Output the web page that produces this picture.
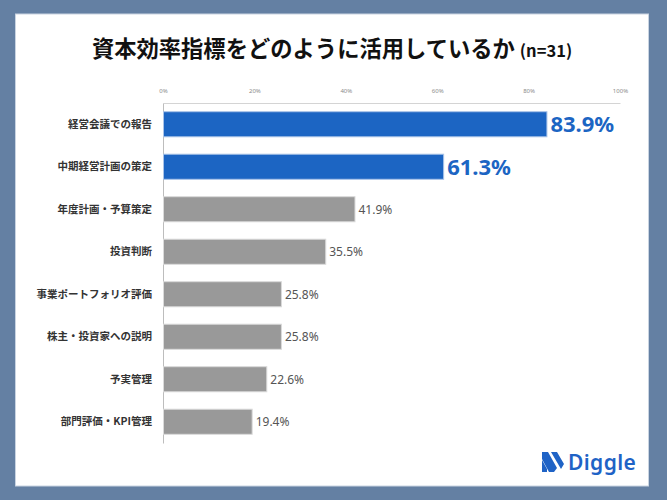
<!DOCTYPE html>
<html>
<head>
<meta charset="utf-8">
<script src="https://cdn.jsdelivr.net/npm/d3@7"></script>
<style>
  body { margin: 0; background: #6480a3; }
</style>
</head>
<body>
<svg width="667" height="500"></svg>
<script>
const { select, scaleLinear, scaleBand, axisTop, axisLeft } = d3;

// data
const categories = [
    '経営会議での報告',
    '中期経営計画の策定',
    '年度計画・予算策定',
    '投資判断',
    '事業ポートフォリオ評価',
    '株主・投資家への説明',
    '予実管理',
    '部門評価・KPI管理',
];
const values = [83.9, 61.3, 41.9, 35.5, 25.8, 25.8, 22.6, 19.4];
const highlighted = ['経営会議での報告', '中期経営計画の策定'];
const tickValues = [0, 20, 40, 60, 80, 100];

const data = categories.map((c, i) => ({ category: c, value: values[i] }));

const svg = select('svg');
const jp = "'Noto Sans CJK JP', 'Noto Sans', sans-serif";
const blue = '#1c65c3';

// card
svg.append('rect')
    .attr('width', 667).attr('height', 500)
    .attr('fill', '#6480a3');
svg.append('rect')
    .attr('x', 15.5).attr('y', 14)
    .attr('width', 633).attr('height', 472)
    .attr('fill', '#fff')
    .attr('stroke', '#c9d4e2');

// title
const title = svg.append('text')
    .attr('x', 332)
    .attr('y', 57)
    .attr('text-anchor', 'middle')
    .attr('font-family', jp)
    .attr('font-weight', 700)
    .attr('fill', '#111');
title.append('tspan').attr('font-size', 22.3).text('資本効率指標をどのように活用しているか');
title.append('tspan').attr('font-size', 16.5).attr('dx', 5).text('(n=31)');

const xScale = scaleLinear().domain([0, 100]).range([163, 620]);
const yScale = scaleBand()
    .domain(categories)
    .range([103, 443])
    .paddingInner(0.41)
    .paddingOuter(0.205);

// top axis
const xAxisG = svg.append('g')
    .attr('transform', 'translate(0,103)')
    .call(axisTop(xScale).tickValues(tickValues).tickSize(0).tickPadding(10)
        .tickFormat((d) => d + '%'));
xAxisG.select('.domain').attr('stroke', '#d4d4d4');
xAxisG.selectAll('text')
    .attr('font-family', "'Noto Sans', sans-serif")
    .attr('font-size', 6)
    .attr('fill', '#8a8a8a');

// left axis
const yAxisG = svg.append('g')
    .attr('transform', 'translate(163,0)')
    .call(axisLeft(yScale).tickSize(0).tickPadding(11));
yAxisG.select('.domain').attr('stroke', '#bdbdbd');
yAxisG.selectAll('text')
    .attr('font-family', jp)
    .attr('font-weight', 700)
    .attr('font-size', 10.5)
    .attr('fill', '#333');

// bars
svg.append('g')
    .selectAll('rect')
    .data(data)
    .join('rect')
    .attr('x', xScale(0) + 0.5)
    .attr('y', (d) => yScale(d.category))
    .attr('width', (d) => xScale(d.value) - xScale(0))
    .attr('height', yScale.bandwidth())
    .attr('fill', (d) => highlighted.includes(d.category) ? blue : '#999')
    .attr('stroke', (d) => highlighted.includes(d.category) ? '#a9c3e8' : '#dadada')
    .attr('stroke-width', 1);

// value labels
svg.append('g')
    .selectAll('text')
    .data(data)
    .join('text')
    .attr('x', (d) => xScale(d.value) + 4)
    .attr('y', (d) => yScale(d.category) + yScale.bandwidth() / 2)
    .attr('dy', '0.36em')
    .attr('font-family', "'Noto Sans', sans-serif")
    .attr('font-size', (d) => highlighted.includes(d.category) ? 22 : 12)
    .attr('font-weight', (d) => highlighted.includes(d.category) ? 700 : 400)
    .attr('fill', (d) => highlighted.includes(d.category) ? blue : '#555')
    .text((d) => d.value.toFixed(1) + '%');

// logo
const logo = svg.append('g').attr('transform', 'translate(542,452)');
logo.append('path')
    .attr('d', 'M0,8 L5,17 L5,20 L0,20 Z M0,0 L6,0 L15,16 L12,20 L7,20 L0,7 Z M9,0 L15,0 L22,12 L19,17 Z')
    .attr('fill', '#1f63c6');
logo.append('text')
    .attr('x', 26)
    .attr('y', 18)
    .attr('font-family', "'Noto Sans', sans-serif")
    .attr('font-weight', 600)
    .attr('font-size', 21)
    .attr('letter-spacing', 0.4)
    .attr('fill', '#1f63c6')
    .text('Diggle');
</script>
</body>
</html>
